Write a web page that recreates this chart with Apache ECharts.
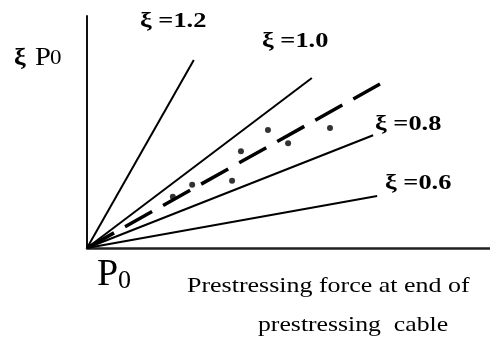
<!DOCTYPE html>
<html>
<head>
<meta charset="utf-8">
<script src="https://cdn.jsdelivr.net/npm/echarts@6/dist/echarts.min.js"></script>
<style>
  html, body { margin: 0; padding: 0; background: #fff; }
  #chart { width: 490px; height: 341px; }
</style>
</head>
<body>
<div id="chart"></div>
<script>
// Reduction lines from the origin: end points (force, reduced force)
var lineNames = ['ξ =1.2', 'ξ =1.0', 'ξ =0.8', 'ξ =0.6'];
var lineEndX = [26.5, 55.8, 71.0, 72.0];
var lineEndY = [47.0, 42.5, 28.2, 13.0];

// Fitted trend (dashed)
var trendEnd = [72.7, 41.0];

// Measured points
var pointX = [21.3, 26.1, 36.0, 38.2, 44.9, 49.9, 60.3];
var pointY = [12.8, 15.8, 16.8, 24.2, 29.5, 26.2, 30.0];

var serif = '"Liberation Serif", "DejaVu Serif", serif';

var series = [];
lineNames.forEach(function (name, i) {
  series.push({
    name: name,
    type: 'line',
    data: [[0, 0], [lineEndX[i], lineEndY[i]]],
    symbol: 'none',
    lineStyle: { color: '#000', width: 2 },
    silent: true
  });
});
series.push({
  name: 'trend',
  type: 'line',
  data: [[0, 0], trendEnd],
  symbol: 'none',
  lineStyle: { color: '#000', width: 3.5, type: [31, 12.6] },
  silent: true
});
series.push({
  name: 'points',
  type: 'scatter',
  data: pointX.map(function (x, i) { return [x, pointY[i]]; }),
  symbol: 'circle',
  symbolSize: 6,
  itemStyle: { color: '#000' },
  silent: true
});

// plain text helper: top-left anchored, optionally stretched horizontally
function label(text, x, y, font, sx) {
  return {
    type: 'text', x: x, y: y, scaleX: sx || 1, silent: true,
    style: { text: text, font: font, fill: '#000', align: 'left', verticalAlign: 'top' }
  };
}

var graphics = [
  label(lineNames[0], 140, 10, 'bold 22px ' + serif, 1.2),
  label(lineNames[1], 262, 30, 'bold 22px ' + serif, 1.2),
  label(lineNames[2], 375, 113, 'bold 22px ' + serif, 1.2),
  label(lineNames[3], 385, 172, 'bold 22px ' + serif, 1.2),
  // vertical axis caption
  label('ξ', 14, 46, 'bold 24px ' + serif, 1.1),
  label('P', 35, 45, '26px ' + serif, 1.1),
  label('0', 50, 49, '20px ' + serif, 1.15),
  // origin caption
  label('P', 97, 256, '38px ' + serif, 1.0),
  label('0', 118, 268, '26px ' + serif, 1.0),
  // horizontal axis caption
  label('Prestressing force at end of', 187, 275, '22px ' + serif, 1.18),
  label('prestressing  cable', 258, 314, '22px ' + serif, 1.17)
];

var chart = echarts.init(document.getElementById('chart'));
chart.setOption({
  animation: false,
  backgroundColor: '#fff',
  grid: { left: 87, top: 16, right: 0, bottom: 93 },
  xAxis: {
    type: 'value', min: 0, max: 100,
    axisLine: { show: true, lineStyle: { color: '#222', width: 2.5 } },
    axisTick: { show: false }, axisLabel: { show: false }, splitLine: { show: false }
  },
  yAxis: {
    type: 'value', min: 0, max: 58,
    axisLine: { show: true, lineStyle: { color: '#111', width: 2 } },
    axisTick: { show: false }, axisLabel: { show: false }, splitLine: { show: false }
  },
  series: series,
  graphic: graphics
});
</script>
</body>
</html>
